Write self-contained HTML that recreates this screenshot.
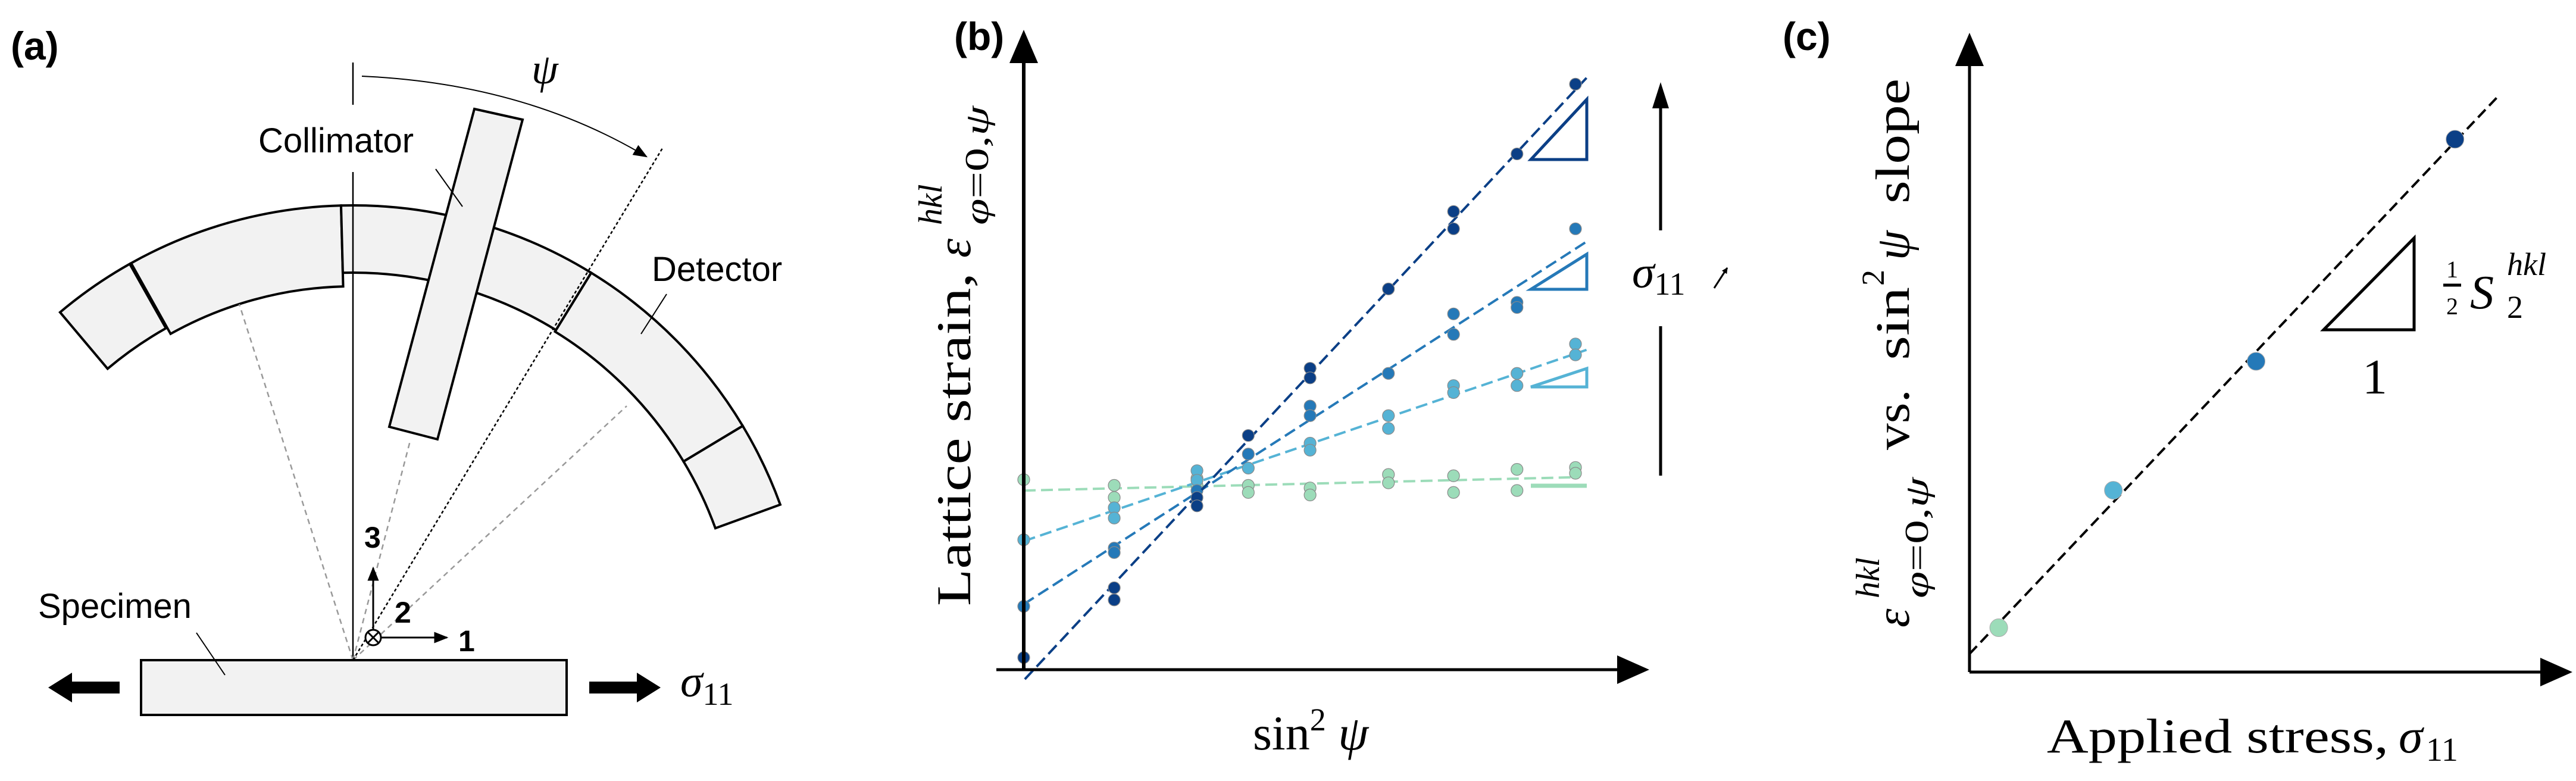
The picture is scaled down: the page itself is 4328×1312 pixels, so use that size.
<!DOCTYPE html>
<html><head><meta charset="utf-8"><style>
html,body{margin:0;padding:0;background:#fff;overflow:hidden;}
svg{display:block;}
.sans{font-family:"Liberation Sans",sans-serif;}
.serif{font-family:"Liberation Serif",serif;}
</style></head><body>
<svg id="fig" width="4328" height="1312" viewBox="0 0 4328 1312" xmlns="http://www.w3.org/2000/svg">
<defs>
<marker id="ah" markerWidth="10" markerHeight="10" refX="9" refY="5" orient="auto" markerUnits="userSpaceOnUse"><path d="M0,0 L10,5 L0,10 z" fill="#000"/></marker>
<marker id="ahs" viewBox="0 0 10 10" markerWidth="24" markerHeight="24" refX="9" refY="5" orient="auto" markerUnits="userSpaceOnUse"><path d="M0,1 L10,5 L0,9 z" fill="#000"/></marker>
</defs>

<!-- ============ PANEL A ============ -->
<g id="panel-a">
<text x="18" y="100" class="sans" font-size="66" font-weight="bold">(a)</text>
<g id="detector"></g>
<line x1="593" y1="105" x2="593" y2="176" stroke="#000" stroke-width="2.5"/>
<line x1="593" y1="289" x2="593" y2="1109" stroke="#000" stroke-width="2.5"/>
<line x1="593" y1="1109" x2="402" y2="511" stroke="#999" stroke-width="2.5" stroke-dasharray="9 7"/>
<line x1="593" y1="1109" x2="689" y2="741" stroke="#999" stroke-width="2.5" stroke-dasharray="9 7"/>
<line x1="593" y1="1109" x2="1053" y2="682" stroke="#999" stroke-width="2.5" stroke-dasharray="9 7"/>
<line x1="593" y1="1109" x2="1113" y2="249" stroke="#000" stroke-width="2.5" stroke-dasharray="5 4"/>
<polygon points="797,183 878,201 735,738 654,717" fill="#f2f2f2" stroke="#000" stroke-width="4"/>
<path d="M608,128 Q880,140 1086,263" fill="none" stroke="#000" stroke-width="2" marker-end="url(#ahs)"/>
<text x="893" y="140" class="serif" font-size="72" font-style="italic">ψ</text>
<text x="434" y="256" class="sans" font-size="58">Collimator</text>
<line x1="732" y1="284" x2="777" y2="347" stroke="#000" stroke-width="2"/>
<text x="1095" y="472" class="sans" font-size="58">Detector</text>
<line x1="1120" y1="494" x2="1077" y2="561" stroke="#000" stroke-width="2"/>
<rect x="237" y="1109" width="715" height="92" fill="#f2f2f2" stroke="#000" stroke-width="4"/>
<text x="64" y="1038" class="sans" font-size="58">Specimen</text>
<line x1="330" y1="1063" x2="378" y2="1134" stroke="#000" stroke-width="2"/>
<line x1="627" y1="1071" x2="627" y2="954" stroke="#000" stroke-width="3" marker-end="url(#ahs)"/>
<line x1="627" y1="1071" x2="751" y2="1071" stroke="#000" stroke-width="3" marker-end="url(#ahs)"/>
<circle cx="627" cy="1071" r="13" fill="#fff" stroke="#000" stroke-width="3"/>
<line x1="618" y1="1062" x2="636" y2="1080" stroke="#000" stroke-width="3"/>
<line x1="636" y1="1062" x2="618" y2="1080" stroke="#000" stroke-width="3"/>
<text x="612" y="920" class="sans" font-size="50" font-weight="bold">3</text>
<text x="663" y="1046" class="sans" font-size="50" font-weight="bold">2</text>
<text x="770" y="1094" class="sans" font-size="50" font-weight="bold">1</text>
<polygon points="81,1155 121,1130 121,1145 201,1145 201,1165 121,1165 121,1180" fill="#000"/>
<polygon points="1110,1155 1070,1130 1070,1145 990,1145 990,1165 1070,1165 1070,1180" fill="#000"/>
<text x="1143" y="1170" class="serif" font-size="76" font-style="italic">σ<tspan font-style="normal" font-size="54" dy="14">11</tspan></text>
</g>

<!-- ============ PANEL B ============ -->
<g id="panel-b">
<text x="1603" y="84" class="sans" font-size="66" font-weight="bold">(b)</text>
<g id="b-marks"></g>
<line x1="1720" y1="1125" x2="1720" y2="100" stroke="#000" stroke-width="6"/>
<polygon points="1720,50 1696,106 1744,106" fill="#000"/>
<line x1="1674" y1="1125" x2="2720" y2="1125" stroke="#000" stroke-width="5"/>
<polygon points="2771,1125 2717,1101 2717,1149" fill="#000"/>
<text x="2105" y="1259" class="serif" font-size="82">sin<tspan font-size="54" dy="-32">2</tspan><tspan dy="32" font-style="italic"> ψ</tspan></text>
<g transform="translate(1630,1018) rotate(-90)">
<text x="0" y="0" class="serif" font-size="82" textLength="560" lengthAdjust="spacingAndGlyphs">Lattice strain,</text>
<text x="585" y="0" class="serif" font-size="82" font-style="italic">ε</text>
<text x="640" y="-48" class="serif" font-size="56" font-style="italic">hkl</text>
<text x="640" y="30" class="serif" font-size="56" textLength="200" lengthAdjust="spacingAndGlyphs"><tspan font-style="italic">φ</tspan>=0,<tspan font-style="italic">ψ</tspan></text>
</g>
<line x1="2790" y1="387" x2="2790" y2="170" stroke="#000" stroke-width="5"/>
<polygon points="2790,138 2776,182 2804,182" fill="#000"/>
<line x1="2790" y1="548" x2="2790" y2="799" stroke="#000" stroke-width="5"/>
<text x="2742" y="483" class="serif" font-size="76" font-style="italic">σ<tspan font-style="normal" font-size="54" dy="12">11</tspan></text>
<line x1="2880" y1="484" x2="2902" y2="450" stroke="#000" stroke-width="3" marker-end="url(#ah)"/>
</g>

<!-- ============ PANEL C ============ -->
<g id="panel-c">
<text x="2995" y="84" class="sans" font-size="66" font-weight="bold">(c)</text>
<g id="c-marks"></g>
<line x1="3309" y1="1129" x2="3309" y2="105" stroke="#000" stroke-width="5"/>
<polygon points="3309,55 3285,111 3333,111" fill="#000"/>
<line x1="3309" y1="1129" x2="4270" y2="1129" stroke="#000" stroke-width="5"/>
<polygon points="4322,1129 4268,1105 4268,1153" fill="#000"/>
<g>
<text x="3439" y="1264" class="serif" font-size="82" textLength="574" lengthAdjust="spacingAndGlyphs">Applied stress,</text>
<text x="4030" y="1264" class="serif" font-size="82" font-style="italic">σ</text>
<text x="4076" y="1278" class="serif" font-size="56">11</text>
</g>
<g transform="translate(3207,1054) rotate(-90)">
<text x="0" y="0" class="serif" font-size="80" font-style="italic">ε</text>
<text x="49" y="-50" class="serif" font-size="56" font-style="italic">hkl</text>
<text x="49" y="32" class="serif" font-size="56" textLength="203" lengthAdjust="spacingAndGlyphs"><tspan font-style="italic">φ</tspan>=0,<tspan font-style="italic">ψ</tspan></text>
<text x="298" y="0" class="serif" font-size="80" textLength="102" lengthAdjust="spacingAndGlyphs">vs.</text>
<text x="449" y="0" class="serif" font-size="80" textLength="123" lengthAdjust="spacingAndGlyphs">sin</text>
<text x="574" y="-42" class="serif" font-size="54">2</text>
<text x="617" y="0" class="serif" font-size="80" font-style="italic">ψ</text>
<text x="712" y="0" class="serif" font-size="80" textLength="210" lengthAdjust="spacingAndGlyphs">slope</text>
</g>
<polygon points="3904,554 4056,554 4056,400" fill="none" stroke="#000" stroke-width="5"/>
<text x="3990" y="661" class="serif" font-size="84" text-anchor="middle">1</text>
<text x="4110" y="466" class="serif" font-size="40">1</text>
<line x1="4105" y1="479" x2="4135" y2="479" stroke="#000" stroke-width="5"/>
<text x="4110" y="528" class="serif" font-size="40">2</text>
<text x="4150" y="518" class="serif" font-size="80" font-style="italic">S</text>
<text x="4212" y="534" class="serif" font-size="54">2</text>
<text x="4212" y="462" class="serif" font-size="54" font-style="italic">hkl</text>
</g>
</svg>
<script>
// ---- Panel B data ----
const sin2psi = [0, 0.164, 0.314, 0.407, 0.519, 0.661, 0.779, 0.894, 1.0];
const strainDark   = [[1.9],[12.8,10.9],[26.9,25.6],[36.6],[47.1,45.6],[59.5],[71.6,68.9],[80.6],[91.5]];
const strainMedium = [[9.9],[19.0,18.3],[28.0],[33.7],[41.2,39.7],[46.3],[55.6,52.4],[57.4,56.6],[68.9]];
const strainLight  = [[20.3],[25.3,23.7],[31.1,29.6],[31.5],[35.4,34.3],[39.7,37.7],[44.4,43.3],[46.3,44.4],[50.9,49.2]];
const strainGreen  = [[29.7],[28.8,26.9],[29.9,28.8],[28.8,27.7],[28.4,27.3],[30.5,29.2],[30.3,27.7],[31.3,28.0],[31.6,30.7]];
const seriesColors = ["#0b3f86", "#2579b8", "#55b3d5", "#9cdcb9"];
// ---- Panel C data ----
const appliedStress = [5.1, 25.1, 50.0, 84.7];
const slopeValues   = [8.8, 36.1, 61.7, 105.8];

const NS = "http://www.w3.org/2000/svg";
function mk(tag, attrs, parent){ const e=document.createElementNS(NS,tag); for(const k in attrs) e.setAttribute(k,attrs[k]); parent.appendChild(e); return e; }

// detector segments (panel a)
const det = document.getElementById('detector');
const DC = [593,1109];
function sector(a0,a1,r0,r1){
  const p=(a,r)=>[DC[0]+r*Math.sin(a*Math.PI/180), DC[1]-r*Math.cos(a*Math.PI/180)];
  const A=p(a0,r1),B=p(a1,r1),C=p(a1,r0),D=p(a0,r0);
  return `M${A} A${r1},${r1} 0 0 1 ${B} L${C} A${r0},${r0} 0 0 0 ${D} Z`;
}
const segs = [[-40.1,-29.4,640,764],[-29.2,-1.5,628,764],[-1.5,31.6,651,764],[31.6,59,648,764],[59,70,648,764]];
segs.forEach((s,i)=>{
  const el = mk('path',{d:sector(...s),fill:'#f2f2f2',stroke:'#000','stroke-width':4},det);
  
  
});

// panel b axes
const bx = v => 1720 + v*927;
const by = v => 1125 - v*10.75;
const bG = document.getElementById('b-marks');
const allSeries = [strainGreen, strainLight, strainMedium, strainDark];
const cols = [seriesColors[3], seriesColors[2], seriesColors[1], seriesColors[0]];
const names = ['green','light-blue','medium-blue','dark-blue'];
allSeries.forEach((ser,si)=>{
  let xs=[],ys=[];
  ser.forEach((vals,i)=>vals.forEach(v=>{xs.push(sin2psi[i]);ys.push(v);}));
  const n=xs.length, mx=xs.reduce((a,b)=>a+b)/n, my=ys.reduce((a,b)=>a+b)/n;
  let sxy=0,sxx=0; for(let i=0;i<n;i++){sxy+=(xs[i]-mx)*(ys[i]-my);sxx+=(xs[i]-mx)**2;}
  const m=sxy/sxx, c=my-m*mx;
  const x0 = si===3 ? 0.002 : 0, x1 = si===0 ? 1.0 : 1.02;
  const ln = mk('line',{x1:bx(x0),y1:by(c+m*x0),x2:bx(x1),y2:by(c+m*x1),stroke:cols[si],'stroke-width':4,'stroke-dasharray':'20 9'},bG);
  
  
  ser.forEach((vals,i)=>vals.forEach(v=>{
    const d = mk('circle',{cx:bx(sin2psi[i]),cy:by(v),r:10,fill:cols[si],stroke:'#8a8a8a','stroke-width':1.2},bG);
    
    
  }));
});
// slope triangles b
[[seriesColors[0],268,167],[seriesColors[1],486,427],[seriesColors[2],650,619]].forEach((t,i)=>{
  const tr = mk('polygon',{points:`2572,${t[1]} 2666,${t[1]} 2666,${t[2]}`,fill:'none',stroke:t[0],'stroke-width':5},bG);
  
  
});
const flat = mk('line',{x1:2572,y1:816,x2:2666,y2:816,stroke:seriesColors[3],'stroke-width':7},bG);



// panel c
const cx = v => 3309 + v*9.63;
const cy = v => 1129 - v*8.46;
const cG = document.getElementById('c-marks');
{
  const n=appliedStress.length, mx=appliedStress.reduce((a,b)=>a+b)/n, my=slopeValues.reduce((a,b)=>a+b)/n;
  let sxy=0,sxx=0; for(let i=0;i<n;i++){sxy+=(appliedStress[i]-mx)*(slopeValues[i]-my);sxx+=(appliedStress[i]-mx)**2;}
  const m=sxy/sxx, c=my-m*mx;
  const x1 = 92.4;
  const ln = mk('line',{x1:cx(0),y1:cy(c),x2:cx(x1),y2:cy(c+m*x1),stroke:'#000','stroke-width':4,'stroke-dasharray':'18 9'},cG);
  
  
}
const cCols = [seriesColors[3],seriesColors[2],seriesColors[1],seriesColors[0]];
appliedStress.forEach((s,i)=>{
  const d = mk('circle',{cx:cx(s),cy:cy(slopeValues[i]),r:15,fill:cCols[i],stroke:'#aaa','stroke-width':1},cG);
  
  
});
</script>
</body></html>
